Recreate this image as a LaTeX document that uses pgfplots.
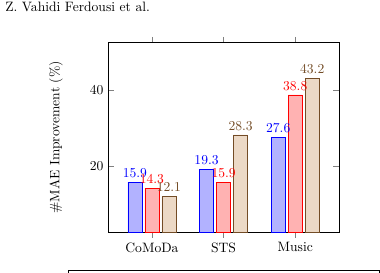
\documentclass[border=0pt]{standalone}
\usepackage{pgfplots}
\pgfplotsset{compat=1.18}
\begin{document}
\begin{tikzpicture}
\useasboundingbox (-79.6pt,-29.4pt) rectangle (199.8pt,170.6pt);
\clip (-79.6pt,-29.4pt) rectangle (199.8pt,170.6pt);
\node[anchor=base west, inner sep=0pt] at (-75.9pt,162pt) {Z. Vahidi Ferdousi et al.};
\begin{axis}[
  at={(0pt,0pt)}, anchor=south west,
  scale only axis,
  width=169.6pt, height=139.2pt,
  ybar=2pt, bar width=10.5pt,
  xmin=-0.61, xmax=2.61,
  ymin=2.77, ymax=52.53,
  xtick={0,1,2},
  xticklabels={CoMoDa,STS,Music},
  xtick align=outside,
  ytick={20,40},
  ylabel={\#MAE Improvement (\%)},
  ylabel shift=13pt,
  nodes near coords,
  legend style={at={(0.5,-0.2)},anchor=north,legend columns=-1},
]
\addplot coordinates {(0,15.9) (1,19.3) (2,27.6)};
\addplot coordinates {(0,14.3) (1,15.9) (2,38.8)};
\addplot coordinates {(0,12.1) (1,28.3) (2,43.2)};
\legend{MF,Exact Pre-filtering,Binary Pre-filtering}
\end{axis}
\end{tikzpicture}
\end{document}
